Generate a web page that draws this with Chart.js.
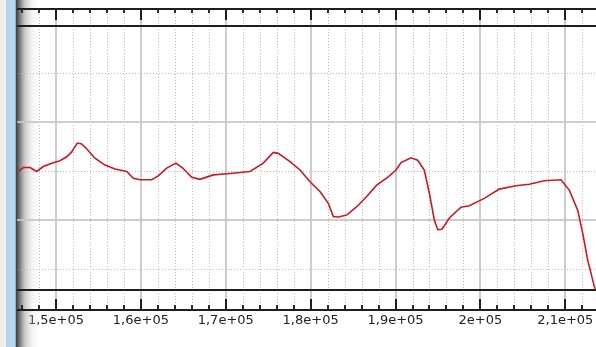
<!DOCTYPE html>
<html><head><meta charset="utf-8">
<script src="https://cdn.jsdelivr.net/npm/chart.js@4"></script>
<style>html,body{margin:0;padding:0;background:#fff;overflow:hidden}canvas{display:block}</style>
</head><body>
<canvas id="c" width="596" height="347"></canvas>
<script>
const xValues = [145560,146150,146940,147730,148500,149490,150470,151260,151850,152510,153030,153690,154590,155770,156950,158330,159110,159900,161270,162050,163040,164140,164930,165990,166960,168530,170500,172860,174420,175600,176190,177570,178750,179920,181100,182080,182670,183260,184250,185430,186600,187780,189150,190060,190650,191820,192610,193390,193980,194570,194970,195470,196340,197710,198690,200460,202220,204190,205760,207530,209490,210470,211460,212050,212640,213420,213620];
const yValues = [0.99,1.07,1.07,0.99,1.09,1.16,1.21,1.29,1.39,1.57,1.55,1.44,1.26,1.12,1.04,0.99,0.85,0.82,0.82,0.90,1.06,1.16,1.06,0.87,0.83,0.92,0.95,0.99,1.16,1.38,1.36,1.19,1.02,0.78,0.58,0.34,0.07,0.06,0.10,0.27,0.48,0.71,0.88,1.02,1.17,1.27,1.22,1.02,0.55,0.00,-0.20,-0.19,0.04,0.26,0.29,0.44,0.63,0.70,0.73,0.80,0.82,0.61,0.20,-0.27,-0.82,-1.36,-1.43];
const tickValues = [150000,160000,170000,180000,190000,200000,210000];
const tickLabels = ['1,5e+05','1,6e+05','1,7e+05','1,8e+05','1,9e+05','2e+05','2,1e+05'];
const minorTickValues = [146000,148000,150000,152000,154000,156000,158000,160000,162000,164000,166000,168000,170000,172000,174000,176000,178000,180000,182000,184000,186000,188000,190000,192000,194000,196000,198000,200000,202000,204000,206000,208000,210000,212000];
const yGridValues = [-1,0,1,2,3];
const yMajorValues = [0,2];
const xMin = 145405, xMax = 213617;
const yMin = -1.43, yMax = 3.96;

const points = xValues.map((x,i)=>({x:x,y:yValues[i]}));

const decor = {
  id:'decor',
  beforeDraw(chart){
    const ctx = chart.ctx, W = chart.width, H = chart.height;
    ctx.save();
    ctx.fillStyle = '#ffffff'; ctx.fillRect(0,0,W,H);
    ctx.restore();
  },
  beforeDatasetsDraw(chart){
    const ctx = chart.ctx, a = chart.chartArea, x = chart.scales.x, y = chart.scales.y;
    const W = chart.width, H = chart.height;
    const L = a.left, R = W;
    const axTop = 9, axBot = 309;
    ctx.save();
    // left window frame
    ctx.fillStyle = '#ededed'; ctx.fillRect(0,0,7,H);
    ctx.fillStyle = '#c9c9c9'; ctx.fillRect(6,0,1,H);
    ctx.fillStyle = '#b6d6f2'; ctx.fillRect(7,0,8,H);
    ctx.fillStyle = '#8fb0cf'; ctx.fillRect(15,0,1,H);
    // shadow gradient
    const g = ctx.createLinearGradient(16,0,42,0);
    g.addColorStop(0,'rgba(60,60,60,1)');
    g.addColorStop(0.12,'rgba(95,95,95,0.9)');
    g.addColorStop(0.35,'rgba(160,160,160,0.55)');
    g.addColorStop(0.65,'rgba(215,215,215,0.25)');
    g.addColorStop(1,'rgba(255,255,255,0)');
    ctx.fillStyle = g; ctx.fillRect(16,0,26,H);
    // vertical grid
    minorTickValues.forEach(v=>{
      const px = Math.round(x.getPixelForValue(v));
      if (tickValues.includes(v)) {
        ctx.fillStyle = 'rgba(200,200,200,0.9)';
        ctx.fillRect(px-1, axTop, 2, axBot-axTop);
      } else {
        ctx.fillStyle = 'rgba(175,175,175,0.85)';
        for (let yy = axTop+2; yy < axBot; yy += 3) ctx.fillRect(px, yy, 1, 1);
      }
    });
    // horizontal grid
    yGridValues.forEach(v=>{
      const py = Math.round(y.getPixelForValue(v));
      if (yMajorValues.includes(v)) {
        ctx.fillStyle = 'rgba(200,200,200,0.9)';
        ctx.fillRect(L, py-1, R-L, 2);
      } else {
        ctx.fillStyle = 'rgba(175,175,175,0.85)';
        for (let xx = L+1; xx < R; xx += 3) ctx.fillRect(xx, py, 1, 1);
      }
    });
    // frame lines
    ctx.fillStyle = '#1e1e1e';
    ctx.fillRect(L, Math.round(a.top)-1, R-L, 2);
    ctx.fillRect(L, Math.round(a.bottom)-1, R-L, 2);
    // top & bottom axis lines
    ctx.fillRect(L, axTop-1, R-L, 2);
    ctx.fillRect(L, axBot, R-L, 2);
    // ticks
    minorTickValues.forEach(v=>{
      const px = Math.round(x.getPixelForValue(v));
      const major = tickValues.includes(v);
      ctx.fillStyle = '#1e1e1e';
      if (major) {
        ctx.fillRect(px-1, axTop, 2, 11);
        ctx.fillRect(px-1, axBot-10, 2, 10);
      } else {
        ctx.fillStyle = '#2a2a2a';
        ctx.fillRect(px-1, axTop, 2, 4);
        ctx.fillRect(px-1, axBot-4, 2, 4);
      }
    });
    ctx.restore();
  }
};

new Chart(document.getElementById('c'), {
  type:'line',
  data:{ datasets:[{
    data: points,
    borderColor:'rgb(204,24,36)',
    borderWidth:1.6,
    pointRadius:0,
    tension:0,
    fill:false
  }]},
  options:{
    responsive:false,
    devicePixelRatio:1,
    animation:false,
    events:[],
    layout:{ padding:{ left:17, top:26, right:0, bottom:0 } },
    plugins:{ legend:{display:false}, tooltip:{enabled:false}, title:{display:false} },
    scales:{
      x:{
        type:'linear', position:'bottom', min:xMin, max:xMax,
        afterBuildTicks(s){ s.ticks = minorTickValues.map(v=>({value:v})); },
        afterFit(s){ s.height = 57; s.paddingLeft = 0; s.paddingRight = 0; },
        ticks:{
          autoSkip:false, maxRotation:0, minRotation:0, padding:0,
          color:'#222222',
          font:{ family:'DejaVu Sans', size:13 },
          callback(v){ const i = tickValues.indexOf(v); return i >= 0 ? tickLabels[i] : ''; }
        },
        grid:{ display:true, drawOnChartArea:false, drawTicks:true, tickLength:23, tickColor:'rgba(0,0,0,0)' },
        border:{ display:false }
      },
      y:{
        type:'linear', display:false, min:yMin, max:yMax,
        afterBuildTicks(s){ s.ticks = yGridValues.map(v=>({value:v})); }
      }
    }
  },
  plugins:[decor]
});
</script>
</body></html>
